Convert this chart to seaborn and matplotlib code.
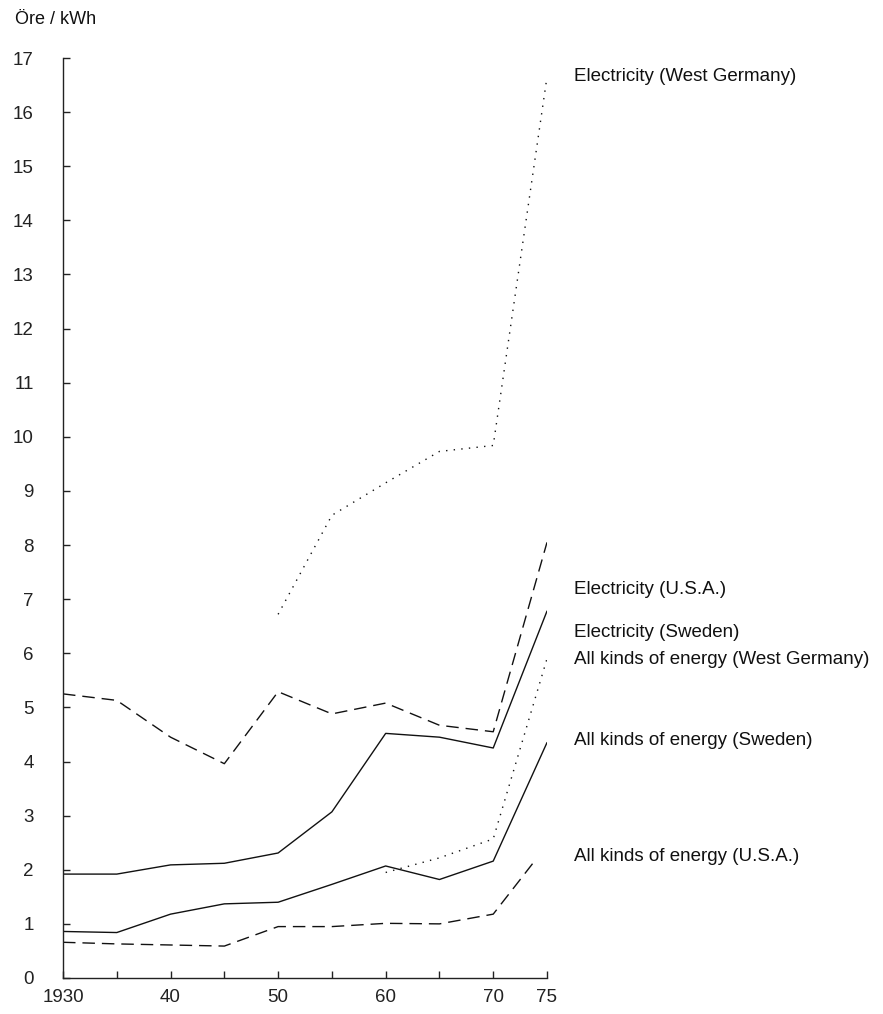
import matplotlib
matplotlib.use("Agg")
import matplotlib.pyplot as plt
import seaborn as sns
import pandas as pd

# ---- data ----
years = [1930, 1935, 1940, 1945, 1950, 1955, 1960, 1965, 1970, 1975]
elec_usa = [5.25, 5.13, 4.45, 3.96, 5.29, 4.88, 5.08, 4.67, 4.55, 8.05]
elec_swe = [1.92, 1.92, 2.09, 2.12, 2.31, 3.07, 4.52, 4.45, 4.25, 6.78]
years_elec_wg = [1950, 1955, 1960, 1965, 1970, 1975]
elec_wg = [6.72, 8.55, 9.15, 9.73, 9.84, 16.65]
years_all_wg = [1960, 1965, 1970, 1975]
all_wg = [1.95, 2.22, 2.57, 5.90]
all_swe = [0.86, 0.84, 1.18, 1.37, 1.40, 1.73, 2.07, 1.82, 2.16, 4.35]
years_all_usa = [1930, 1935, 1940, 1945, 1950, 1955, 1960, 1965, 1970, 1974]
all_usa = [0.66, 0.63, 0.61, 0.59, 0.95, 0.95, 1.01, 1.00, 1.18, 2.20]

series_labels = [
    "Electricity (West Germany)",
    "Electricity (U.S.A.)",
    "Electricity (Sweden)",
    "All kinds of energy (West Germany)",
    "All kinds of energy (Sweden)",
    "All kinds of energy (U.S.A.)",
]
label_values = [16.66, 7.17, 6.39, 5.88, 4.38, 2.24]

x_ticks = [1930, 1935, 1940, 1945, 1950, 1955, 1960, 1965, 1970, 1975]
x_ticklabels = ["1930", "", "40", "", "50", "", "60", "", "70", "75"]
y_ticks = list(range(0, 18))
y_label = "Öre / kWh"

# ---- style ----
sns.set_style("ticks")
plt.rcParams["font.family"] = ["Liberation Sans", "DejaVu Sans"]
plt.rcParams["font.size"] = 13

fig = plt.figure(figsize=(8.83, 10.14), dpi=100)
W, H = 883, 1014
ax = fig.add_axes([63 / W, 1 - 978 / H, (547 - 63) / W, (978 - 58) / H])

lw = 1.0
dashed = (0, (9, 5))
dotted = (0, (1, 4.5))

plots = [
    (years_elec_wg, elec_wg, dotted),
    (years, elec_usa, dashed),
    (years, elec_swe, "-"),
    (years_all_wg, all_wg, dotted),
    (years, all_swe, "-"),
    (years_all_usa, all_usa, dashed),
]
for xs, ys, ls in plots:
    df = pd.DataFrame({"year": xs, "value": ys})
    sns.lineplot(data=df, x="year", y="value", ax=ax, color="#111111",
                 linewidth=lw, linestyle=ls, estimator=None, sort=False)

ax.set_xlim(1930, 1975)
ax.set_ylim(0, 17)
ax.set_xticks(x_ticks)
ax.set_xticklabels(x_ticklabels)
ax.set_yticks(y_ticks)
ax.set_yticklabels([str(v) for v in y_ticks])
ax.set_xlabel("")
ax.set_ylabel("")

for s in ["top", "right"]:
    ax.spines[s].set_visible(False)
for s in ["left", "bottom"]:
    ax.spines[s].set_color("#222222")
    ax.spines[s].set_linewidth(1.0)

ax.tick_params(axis="y", direction="in", length=5, width=1, pad=21,
               labelsize=13.5, colors="#222222")
ax.tick_params(axis="x", direction="in", length=5, width=1, pad=8,
               labelsize=13.5, colors="#222222")

for lab, val in zip(series_labels, label_values):
    ax.text(1977.5, val, lab, ha="left", va="center", fontsize=13.5,
            color="#111111", clip_on=False)

fig.text(15 / W, 1 - 20 / H, y_label, ha="left", va="center", fontsize=13,
         color="#111111")

fig.savefig("out.png", dpi=100)
